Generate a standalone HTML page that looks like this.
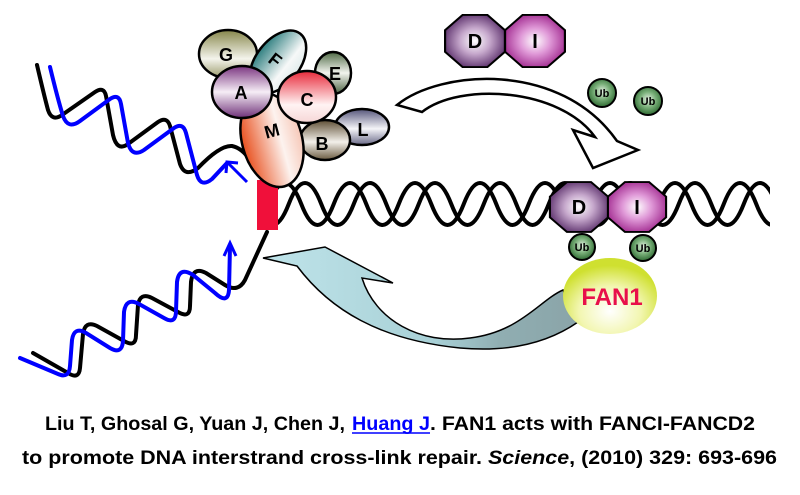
<!DOCTYPE html>
<html><head><meta charset="utf-8"><style>
html,body{margin:0;padding:0;background:#fff;}
svg{display:block;}
</style></head><body>
<svg width="800" height="495" viewBox="0 0 800 495" xmlns="http://www.w3.org/2000/svg">
<defs>
<linearGradient id="gG" x1="0" y1="0" x2="0" y2="1"><stop offset="0" stop-color="#86864a"/><stop offset="0.6" stop-color="#f4f4ec"/><stop offset="1" stop-color="#9a9a6a"/></linearGradient>
<linearGradient id="gF" x1="0" y1="0" x2="1" y2="0"><stop offset="0" stop-color="#2f7f80"/><stop offset="0.7" stop-color="#f6f8f8"/><stop offset="1" stop-color="#e0ecec"/></linearGradient>
<linearGradient id="gE" x1="0" y1="0" x2="0" y2="1"><stop offset="0" stop-color="#4f6a45"/><stop offset="0.5" stop-color="#f2f4ee"/><stop offset="1" stop-color="#4a6040"/></linearGradient>
<linearGradient id="gA" x1="0" y1="0" x2="0" y2="1"><stop offset="0" stop-color="#7a3580"/><stop offset="0.5" stop-color="#f6eef6"/><stop offset="1" stop-color="#6e2f78"/></linearGradient>
<linearGradient id="gC" x1="0" y1="0" x2="0" y2="1"><stop offset="0" stop-color="#e82a3a"/><stop offset="0.65" stop-color="#fff3f3"/><stop offset="1" stop-color="#f6d6d6"/></linearGradient>
<linearGradient id="gL" x1="0" y1="0" x2="0" y2="1"><stop offset="0" stop-color="#55557a"/><stop offset="0.55" stop-color="#f4f4f8"/><stop offset="1" stop-color="#6a6a88"/></linearGradient>
<linearGradient id="gB" x1="0" y1="0" x2="0" y2="1"><stop offset="0" stop-color="#5e4e34"/><stop offset="0.55" stop-color="#f3f0ea"/><stop offset="1" stop-color="#6a5a40"/></linearGradient>
<linearGradient id="gM" x1="0" y1="0" x2="1" y2="0"><stop offset="0" stop-color="#e8501e"/><stop offset="0.65" stop-color="#fdf3ef"/><stop offset="1" stop-color="#f6c8b8"/></linearGradient>
<radialGradient id="gD" cx="0.5" cy="0.5" r="0.55"><stop offset="0" stop-color="#ffffff"/><stop offset="0.45" stop-color="#c6a8cc"/><stop offset="1" stop-color="#5a2e6a"/></radialGradient>
<radialGradient id="gI" cx="0.5" cy="0.5" r="0.55"><stop offset="0" stop-color="#ffffff"/><stop offset="0.45" stop-color="#e09ad8"/><stop offset="1" stop-color="#a0288e"/></radialGradient>
<radialGradient id="gU" cx="0.5" cy="0.45" r="0.55"><stop offset="0" stop-color="#e6f2e4"/><stop offset="0.5" stop-color="#7ab07a"/><stop offset="1" stop-color="#2e6a32"/></radialGradient>
<radialGradient id="gY" cx="0.5" cy="0.7" r="0.6"><stop offset="0" stop-color="#ffffff"/><stop offset="0.55" stop-color="#f2f6b0"/><stop offset="1" stop-color="#cfe030"/></radialGradient>
<linearGradient id="gArr" x1="0" y1="0" x2="1" y2="0"><stop offset="0" stop-color="#bfe4ea"/><stop offset="0.55" stop-color="#a8d0d6"/><stop offset="0.75" stop-color="#90aeb2"/><stop offset="1" stop-color="#8aa4a8"/></linearGradient>
<clipPath id="dclip"><rect x="270" y="150" width="500" height="100"/></clipPath>
<polygon id="oct" points="-11.5,-27.7 11.5,-27.7 27.7,-11.5 27.7,11.5 11.5,27.7 -11.5,27.7 -27.7,11.5 -27.7,-11.5"/>
</defs>

<!-- main duplex -->
<g clip-path="url(#dclip)" fill="none" stroke="#000" stroke-width="4">
<path d="M268.75 204 Q285 162 301.25 204 T333.75 204 T366.25 204 T398.75 204 T431.25 204 T463.75 204 T496.25 204 T528.75 204 T561.25 204 T593.75 204 T626.25 204 T658.75 204 T691.25 204 T723.75 204 T756.25 204 T788.75 204"/>
<path d="M256.25 204 Q272.5 246 288.75 204 T321.25 204 T353.75 204 T386.25 204 T418.75 204 T451.25 204 T483.75 204 T516.25 204 T548.75 204 T581.25 204 T613.75 204 T646.25 204 T678.75 204 T711.25 204 T743.75 204 T776.25 204"/>
</g>

<!-- upper-left duplex -->
<path d="M37,65 Q44,95 48,110 Q52,122 62,115 L95,92 Q104,86 106,96 L113,135 Q117,152 128,144 L158,122 Q167,116 170,126 L180,164 Q185,178 198,168 Q220,145 232,146 Q242,148 250,160" fill="none" stroke="#000" stroke-width="4" stroke-linecap="round"/>
<path d="M50,67 Q58,100 63,116 Q68,130 80,121 L110,99 Q119,93 121,104 L128,143 Q132,158 144,150 L174,128 Q183,122 186,133 L197,175 Q201,188 212,179 L227,163" fill="none" stroke="#0000ff" stroke-width="4" stroke-linecap="round"/>
<line x1="227" y1="162" x2="247" y2="182" stroke="#0000ff" stroke-width="3"/>
<polyline points="226,173 227,162 238,163" fill="none" stroke="#0000ff" stroke-width="3"/>

<!-- lower-left duplex -->
<path d="M33,353 L68,373 Q79,380 80,368 L83,334 Q85,320 97,326 L124,341 Q136,348 136,335 L138,305 Q140,292 152,298 L178,312 Q190,319 190,306 L191,282 Q193,266 206,273 L225,285 Q238,293 245,280 L267,232" fill="none" stroke="#000" stroke-width="4" stroke-linecap="round"/>
<path d="M20,358 L58,374 Q69,379 70,366 L72,340 Q74,326 86,333 L110,348 Q122,355 123,341 L124,312 Q126,297 139,304 L164,318 Q176,325 176,311 L177,282 Q179,266 193,275 L215,293 Q228,305 229,290 L230,246" fill="none" stroke="#0000ff" stroke-width="4" stroke-linecap="round"/>
<polyline points="224,256 230,243 236,256" fill="none" stroke="#0000ff" stroke-width="3"/>

<!-- red block -->
<rect x="257" y="180" width="21" height="50" fill="#f0103a"/>

<!-- complex -->
<g stroke="#000" stroke-width="2.5">
<ellipse cx="228" cy="54" rx="29" ry="24" fill="url(#gG)"/>
<ellipse cx="278" cy="62" rx="22" ry="36" fill="url(#gF)" transform="rotate(38 278 62)"/>
<ellipse cx="333" cy="73" rx="18" ry="21" fill="url(#gE)"/>
<ellipse cx="362" cy="127" rx="27" ry="18" fill="url(#gL)"/>
<ellipse cx="325" cy="140" rx="25" ry="20" fill="url(#gB)"/>
<ellipse cx="272" cy="140" rx="30" ry="48" fill="url(#gM)" transform="rotate(-15 272 140)"/>
<ellipse cx="242" cy="92" rx="30" ry="26" fill="url(#gA)"/>
<ellipse cx="307" cy="97" rx="29" ry="26" fill="url(#gC)"/>
</g>
<g font-family="Liberation Sans, sans-serif" font-weight="bold" font-size="18" text-anchor="middle" fill="#000">
<text x="226" y="61">G</text>
<text x="275" y="66" transform="rotate(38 275 60)">F</text>
<text x="335" y="80">E</text>
<text x="241" y="99">A</text>
<text x="307" y="106">C</text>
<text x="363" y="136">L</text>
<text x="322" y="150">B</text>
<text x="272" y="137" transform="rotate(-15 272 131)">M</text>
</g>

<!-- white arrow -->
<path d="M397,105 C440,70 560,60 617,141 L638,150 L593,168 L573,130 L595,137 C560,88 460,82 422,112 Z" fill="#fff" stroke="#000" stroke-width="2.5" stroke-linejoin="miter"/>

<!-- DI top -->
<g stroke="#000" stroke-width="2">
<use href="#oct" transform="translate(475 41) scale(1.08 0.94)" fill="url(#gD)"/>
<use href="#oct" transform="translate(535 41) scale(1.08 0.94)" fill="url(#gI)"/>
</g>
<!-- DI lower -->
<g stroke="#000" stroke-width="2">
<use href="#oct" transform="translate(579 207) scale(1.05 0.9)" fill="url(#gD)"/>
<use href="#oct" transform="translate(637 207) scale(1.05 0.9)" fill="url(#gI)"/>
</g>
<g font-family="Liberation Sans, sans-serif" font-weight="bold" font-size="20" text-anchor="middle" fill="#000">
<text x="475" y="48">D</text><text x="535" y="48">I</text>
<text x="579" y="214">D</text><text x="637" y="214">I</text>
</g>

<!-- Ub -->
<g stroke="#000" stroke-width="2" fill="url(#gU)">
<circle cx="602" cy="93" r="14"/><circle cx="648" cy="101" r="14"/>
<circle cx="582" cy="247" r="13"/><circle cx="643" cy="248" r="13"/>
</g>
<g font-family="Liberation Sans, sans-serif" font-weight="bold" font-size="11" text-anchor="middle" fill="#000">
<text x="602" y="97">Ub</text><text x="648" y="105">Ub</text>
<text x="582" y="251">Ub</text><text x="643" y="252">Ub</text>
</g>

<!-- blue arrow -->
<path d="M263,258 L325,247 L393,283 L362,278 C375,320 420,345 470,338 C520,332 540,300 563,290 L578,322 C545,345 505,352 460,348 C380,340 330,310 297,266 Z" fill="url(#gArr)" stroke="#000" stroke-width="1.5"/>

<!-- FAN1 -->
<ellipse cx="610" cy="296" rx="47" ry="38" fill="url(#gY)"/>
<text x="612" y="305" font-family="Liberation Sans, sans-serif" font-weight="bold" font-size="24" text-anchor="middle" fill="#e8104a">FAN1</text>

<!-- citation -->
<g font-family="Liberation Sans, sans-serif" font-size="19" font-weight="bold" fill="#000">
<text x="45" y="430" textLength="300" lengthAdjust="spacingAndGlyphs">Liu T, Ghosal G, Yuan J, Chen J,</text>
<text x="352" y="430" textLength="78" lengthAdjust="spacingAndGlyphs" fill="#0000ff">Huang J</text>
<text x="430" y="430" textLength="325" lengthAdjust="spacingAndGlyphs">. FAN1 acts with FANCI-FANCD2</text>
<text x="22" y="464" textLength="755" lengthAdjust="spacingAndGlyphs">to promote DNA interstrand cross-link repair. <tspan font-style="italic">Science</tspan>, (2010) 329: 693-696</text>
</g>
<line x1="352" y1="433" x2="430" y2="433" stroke="#0000ff" stroke-width="1.5"/>
</svg>
</body></html>
